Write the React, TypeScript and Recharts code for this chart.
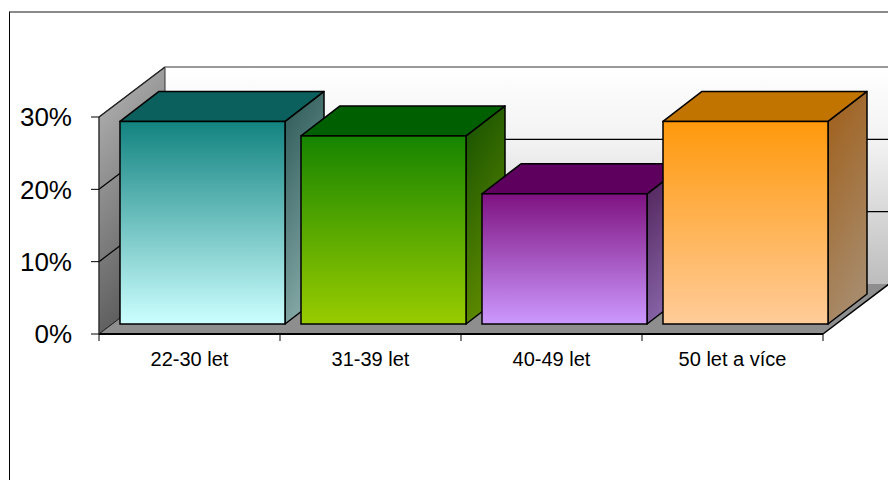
import { BarChart, Bar, XAxis, YAxis, ReferenceArea } from "recharts";

const categories = ["22-30 let", "31-39 let", "40-49 let", "50 let a více"];
const shares = [0.28, 0.26, 0.18, 0.28];
const yTicks = [0, 0.1, 0.2, 0.3];

const data = categories.map((name, i) => ({ name, share: shares[i] }));

// front / top / side colours for each bar
const palette = [
  { front: ["#128380", "#ccffff"], top: "#0b5f5d", side: ["#2a5755", "#84a8a6"] },
  { front: ["#168400", "#99cc00"], top: "#005f00", side: ["#144f00", "#5e8a00"] },
  { front: ["#7e1280", "#cc99ff"], top: "#5e005e", side: ["#4c1d52", "#8866aa"] },
  { front: ["#ff990c", "#ffcc99"], top: "#c27400", side: ["#a05e18", "#a78a6a"] },
];

const DX = 66;
const DY = 50;
const BAR_SHIFT_X = 13;
const BAR_SHIFT_Y = 10;
const BAR_DX = 39;
const BAR_DY = 30;

const pct = (v: number) => `${Math.round(v * 100)}%`;

function Walls(props: any) {
  const { x, y, width, height } = props;
  const max = yTicks[yTicks.length - 1];
  const yAt = (t: number) => y + height * (1 - t / max);
  const bottom = y + height;
  const right = x + width;
  return (
    <g>
      <defs>
        <linearGradient id="backWall" x1="0" y1="0" x2="0" y2="1">
          <stop offset="0%" stopColor="#ffffff" />
          <stop offset="35%" stopColor="#f2f2f2" />
          <stop offset="100%" stopColor="#bdbdbd" />
        </linearGradient>
        <linearGradient id="sideWall" x1="0" y1="0" x2="0.3" y2="1">
          <stop offset="0%" stopColor="#b8b8b8" />
          <stop offset="100%" stopColor="#5a5a5a" />
        </linearGradient>
      </defs>
      <polygon
        points={`${x + DX},${y - DY} ${right + DX},${y - DY} ${right + DX},${bottom - DY} ${x + DX},${bottom - DY}`}
        fill="url(#backWall)"
      />
      <polygon
        points={`${x},${y} ${x + DX},${y - DY} ${x + DX},${bottom - DY} ${x},${bottom}`}
        fill="url(#sideWall)"
        stroke="#333"
        strokeWidth={1}
      />
      <line x1={x + DX} y1={y - DY} x2={right + DX} y2={y - DY} stroke="#999" strokeWidth={2} />
      <line x1={x} y1={y} x2={x + DX} y2={y - DY} stroke="#222" strokeWidth={1.5} />
      {yTicks
        .filter((t) => t > 0 && t < max)
        .map((t) => (
          <g key={t}>
            <line x1={x} y1={yAt(t)} x2={x + DX} y2={yAt(t) - DY} stroke="#000" strokeWidth={1.2} />
            <line x1={x + DX} y1={yAt(t) - DY} x2={right + DX} y2={yAt(t) - DY} stroke="#000" strokeWidth={1.2} />
          </g>
        ))}
      <polygon
        points={`${x},${bottom} ${x + DX},${bottom - DY} ${right + DX},${bottom - DY} ${right},${bottom}`}
        fill="#8e8e8e"
      />
      <line x1={x} y1={bottom} x2={x + DX} y2={bottom - DY} stroke="#222" strokeWidth={1} />
      <line x1={right} y1={bottom} x2={right + DX} y2={bottom - DY} stroke="#000" strokeWidth={1.5} />
      {categories.map((_, i) => (
        <line
          key={i}
          x1={x + (i * width) / categories.length}
          y1={bottom}
          x2={x + (i * width) / categories.length}
          y2={bottom + 7}
          stroke="#000"
          strokeWidth={1}
        />
      ))}
      <line x1={right} y1={bottom} x2={right} y2={bottom + 7} stroke="#000" strokeWidth={1} />
    </g>
  );
}

function Box3D(props: any) {
  const { x, y, width, height, index } = props;
  const c = palette[index % palette.length];
  const fx = x + BAR_SHIFT_X;
  const fy = y - BAR_SHIFT_Y;
  const fb = fy + height;
  const fr = fx + width;
  const fid = `front${index}`;
  const sid = `side${index}`;
  return (
    <g>
      <defs>
        <linearGradient id={fid} x1="0" y1="0" x2="0" y2="1">
          <stop offset="0%" stopColor={c.front[0]} />
          <stop offset="100%" stopColor={c.front[1]} />
        </linearGradient>
        <linearGradient id={sid} x1="0" y1="0" x2="0.3" y2="1">
          <stop offset="0%" stopColor={c.side[0]} />
          <stop offset="100%" stopColor={c.side[1]} />
        </linearGradient>
      </defs>
      <polygon
        points={`${fr},${fy} ${fr + BAR_DX},${fy - BAR_DY} ${fr + BAR_DX},${fb - BAR_DY} ${fr},${fb}`}
        fill={`url(#${sid})`}
        stroke="#000"
        strokeWidth={1.5}
        strokeLinejoin="round"
      />
      <polygon
        points={`${fx},${fy} ${fx + BAR_DX},${fy - BAR_DY} ${fr + BAR_DX},${fy - BAR_DY} ${fr},${fy}`}
        fill={c.top}
        stroke="#000"
        strokeWidth={1.5}
        strokeLinejoin="round"
      />
      <rect x={fx} y={fy} width={width} height={height} fill={`url(#${fid})`} stroke="#000" strokeWidth={1.5} />
    </g>
  );
}

export default function App() {
  return (
    <div
      style={{
        position: "absolute",
        left: 0,
        top: 0,
        width: 888,
        height: 480,
        overflow: "hidden",
        background: "#fff",
      }}
    >
      <div
        style={{
          position: "absolute",
          left: 9,
          top: 11,
          width: 900,
          height: 500,
          borderLeft: "1px solid #000",
          borderTop: "2px solid #8a8a8a",
        }}
      />
      <div style={{ position: "absolute", left: 0, top: 0 }}>
        <BarChart
          width={888}
          height={480}
          data={data}
          margin={{ top: 117, right: 65, bottom: 0, left: 0 }}
          barSize={165}
          style={{ fontFamily: "'Liberation Sans', Arial, sans-serif" }}
        >
          <ReferenceArea y1={0} y2={0.3} ifOverflow="visible" shape={Walls} />
          <XAxis
            dataKey="name"
            height={146}
            axisLine={{ stroke: "#000", strokeWidth: 2 }}
            tickLine={false}
            tickSize={6}
            tickMargin={12}
            interval={0}
            tick={{ fill: "#000", fontSize: 20 }}
          />
          <YAxis
            width={99}
            domain={[0, 0.3]}
            ticks={yTicks}
            tickFormatter={pct}
            axisLine={{ stroke: "#333", strokeWidth: 1 }}
            tickLine={{ stroke: "#000" }}
            tickSize={8}
            tickMargin={19}
            tick={{ fill: "#000", fontSize: 26 }}
          />
          <Bar dataKey="share" shape={Box3D} isAnimationActive={false} />
        </BarChart>
      </div>
    </div>
  );
}
